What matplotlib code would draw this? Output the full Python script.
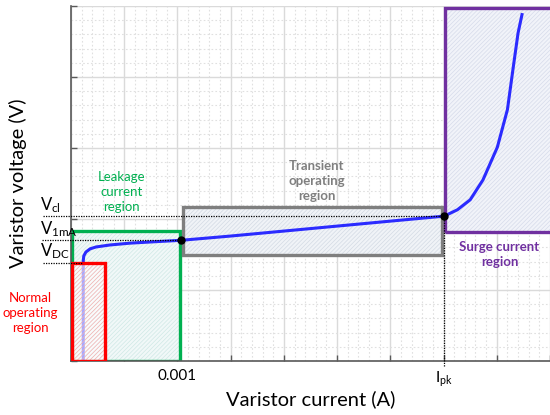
import matplotlib
matplotlib.use("Agg")
import matplotlib.pyplot as plt
from matplotlib.patches import Rectangle

plt.rcParams['font.family'] = ['Lato', 'DejaVu Sans']
plt.rcParams['mathtext.fontset'] = 'custom'
plt.rcParams['mathtext.rm'] = 'Lato'
plt.rcParams['hatch.linewidth'] = 0.5

# V-I curve of the varistor, in grid units (x: current, y: voltage)
curve_x = [0.23, 0.23, 0.24, 0.28, 0.36, 0.47, 0.73, 1.11, 1.58, 2.07,
           3.0, 4.0, 5.0, 6.0, 7.01, 7.26, 7.5, 7.74, 8.01, 8.2, 8.31, 8.40, 8.48]
curve_y = [0.0, 1.41, 1.48, 1.535, 1.58, 1.606, 1.634, 1.66, 1.68, 1.70,
           1.76, 1.83, 1.90, 1.97, 2.04, 2.13, 2.27, 2.55, 3.01, 3.54, 4.14, 4.62, 4.90]

# operating points
v_dc = 1.385
v_1ma = 1.70
v_cl = 2.04
i_1ma = 2.07
i_pk = 7.01
i_dc = 0.23

# regions: (x0, x1, y0, y1)
normal_box = (0.02, 0.64, 0.0, 1.38)
leakage_box = (0.02, 2.05, 0.0, 1.83)
transient_box = (2.10, 6.97, 1.49, 2.17)
surge_box = (7.03, 9.5, 1.82, 4.97)

xtick_pos = list(range(10))
xtick_labels = ['', '', '0.001', '', '', '', '', r'$\mathregular{I_{pk}}$', '', '']

fig = plt.figure(figsize=(5.5, 4.15), dpi=100)
ax = fig.add_axes([71 / 550, 54 / 415, 479 / 550, 355 / 415])
ax.set_xlim(0, 9)
ax.set_ylim(0, 5)

# grid: solid majors, dotted minors (5 per cell)
ax.set_xticks(xtick_pos)
ax.set_xticklabels(xtick_labels, fontsize=11)
ax.set_yticks(range(6))
ax.set_yticklabels([])
ax.set_xticks([i / 5 for i in range(46)], minor=True)
ax.set_yticks([i / 5 for i in range(26)], minor=True)
ax.grid(which='major', color='#dadada', lw=1.0)
ax.grid(which='minor', color='#e0e0e0', lw=0.8, ls=(0, (1.5, 2)))
ax.set_axisbelow(True)
ax.tick_params(which='major', direction='in', length=4, color='#595959', width=1)
ax.tick_params(which='minor', length=0)
ax.tick_params(axis='x', pad=6)
for s in ['top', 'right']:
    ax.spines[s].set_visible(False)
for s in ['left', 'bottom']:
    ax.spines[s].set_color('#595959')
    ax.spines[s].set_linewidth(1.2)


def region(box, face, hatch_col, edge, z):
    x0, x1, y0, y1 = box
    ax.add_patch(Rectangle((x0, y0), x1 - x0, y1 - y0, facecolor=face,
                           edgecolor=hatch_col, hatch='////////', lw=0, zorder=z))
    ax.add_patch(Rectangle((x0, y0), x1 - x0, y1 - y0, fill=False,
                           edgecolor=edge, lw=2.4, zorder=z + 0.1))


region(leakage_box, '#f1f8f8', '#cfe8e5', '#00b050', 1)
region(transient_box, '#f0f3f7', '#d3dae4', '#7f7f7f', 1)
region(surge_box, '#f1f3f9', '#d6dbea', '#7030a0', 1)

ax.plot(curve_x, curve_y, color='#2b2bff', lw=2.2, zorder=3, solid_capstyle='butt')

# normal operating box sits over the curve
region(normal_box, (1, 1, 1, 0.6), '#f2b0b0', '#ff0000', 4)

# reference lines
dot = dict(color='black', lw=0.9, ls=(0, (1, 1)), zorder=5, clip_on=False)
ax.plot([-0.53, i_pk], [v_cl, v_cl], **dot)
ax.plot([-0.55, i_1ma], [v_1ma, v_1ma], **dot)
ax.plot([-0.53, i_dc], [v_dc, v_dc], **dot)
ax.plot([i_pk, i_pk], [-0.07, v_cl], **dot)
ax.plot([i_1ma, i_pk], [v_1ma, v_cl], 'o', color='black', ms=5, zorder=6)

vkw = dict(fontsize=12, ha='left', va='bottom', clip_on=False)
ax.text(-0.59, v_cl + 0.02, r'$\mathregular{V_{cl}}$', **vkw)
ax.text(-0.59, v_1ma + 0.02, r'$\mathregular{V_{1mA}}$', **vkw)
ax.text(-0.59, v_dc + 0.02, r'$\mathregular{V_{DC}}$', **vkw)

# region labels
ax.text(0.95, 2.38, 'Leakage\ncurrent\nregion', color='#00b050', fontsize=9.5,
        ha='center', va='center', linespacing=1.3)
ax.text(-0.77, 0.68, 'Normal\noperating\nregion', color='#ff0000', fontsize=9.5,
        ha='center', va='center', linespacing=1.3, clip_on=False)
ax.text(4.62, 2.53, 'Transient\noperating\nregion', color='#7f7f7f', fontsize=9.5,
        ha='center', va='center', linespacing=1.3, fontweight='bold')
ax.text(8.05, 1.50, 'Surge current\nregion', color='#7030a0', fontsize=9.5,
        ha='center', va='center', linespacing=1.3, fontweight='bold')

ax.set_xlabel('Varistor current (A)', fontsize=14.5, labelpad=1)
ax.set_ylabel('Varistor voltage (V)', fontsize=14.5, labelpad=28)

fig.savefig('out.png', dpi=100)
